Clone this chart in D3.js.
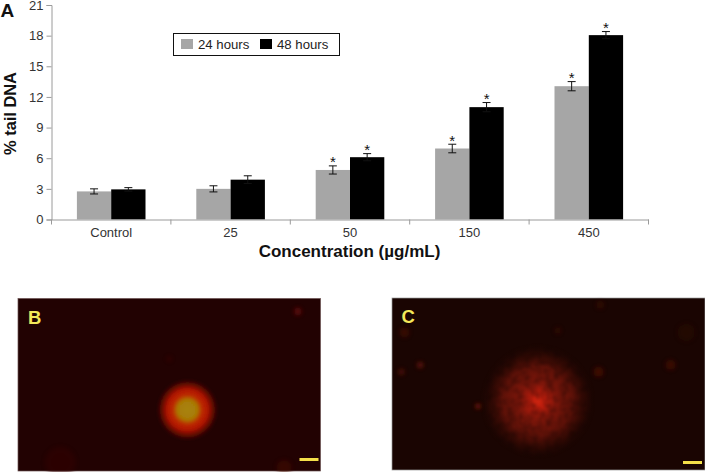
<!DOCTYPE html>
<html>
<head>
<meta charset="utf-8">
<script src="https://cdn.jsdelivr.net/npm/d3@7"></script>
<style>
  html, body { margin: 0; padding: 0; background: #fff; }
  text { font-family: "Liberation Sans", Arial, sans-serif; }
</style>
</head>
<body>
<script>
var categories = ["Control", "25", "50", "150", "450"];
var seriesNames = ["24 hours", "48 hours"];
var values24 = [2.75, 3.0, 4.85, 6.95, 13.05];
var values48 = [2.95, 3.9, 6.1, 11.0, 18.05];
var errors24 = [0.25, 0.3, 0.4, 0.42, 0.45];
var errors48 = [0.17, 0.38, 0.35, 0.45, 0.35];
var stars24 = [false, false, true, true, true];
var stars48 = [false, false, true, true, true];
var yTicks = [0, 3, 6, 9, 12, 15, 18, 21];

// micrograph contents, in panel fractions: [x, y, radius, colour, opacity]
var specksB = [[0.925, 0.075, 0.012, "#6a0810", 0.8], [0.5, 0.35, 0.008, "#4a0805", 0.5],
  [0.88, 0.98, 0.025, "#4a0803", 0.5], [0.14, 0.95, 0.05, "#360500", 0.5]];
var specksC = [[0.09, 0.39, 0.01, "#7a1a10", 0.7], [0.03, 0.43, 0.01, "#6a1408", 0.6],
  [0.04, 0.2, 0.016, "#4a0f06", 0.6], [0.89, 0.39, 0.016, "#4a0f06", 0.7],
  [0.66, 0.43, 0.016, "#4a0f06", 0.8], [0.275, 0.63, 0.008, "#8a1c10", 0.9],
  [0.53, 0.19, 0.01, "#3c0c05", 0.6], [0.665, 0.04, 0.012, "#3c0c05", 0.6],
  [0.94, 0.2, 0.028, "#2c0a04", 0.5]];

var svg = d3.select("body").append("svg")
  .attr("width", 705)
  .attr("height", 472)
  .style("display", "block");

var x = d3.scaleBand().domain(categories).range([51.5, 648.5]);
var y = d3.scaleLinear().domain([0, 21]).range([219.5, 5]);
var barW = 34.3;
var axisColor = "#9a9a9a";

var yAxis = d3.axisLeft(y).tickValues(yTicks).tickSize(5).tickPadding(3);
var gy = svg.append("g").attr("transform", "translate(51.5,0)").call(yAxis);
gy.select(".domain").attr("stroke", axisColor);
gy.selectAll("line").attr("stroke", axisColor);
gy.selectAll("text").style("font-size", "13px").attr("fill", "#333");

function drawSeries(vals, errs, stars, color, offset) {
  var g = svg.append("g");
  categories.forEach(function(c, i) {
    var cx = x(c) + x.bandwidth() / 2 + offset * barW;
    g.append("rect")
      .attr("x", cx - barW / 2)
      .attr("y", y(vals[i]))
      .attr("width", barW)
      .attr("height", y(0) - y(vals[i]))
      .attr("fill", color);
    [[cx, cx, vals[i] - errs[i], vals[i] + errs[i]],
     [cx - 4, cx + 4, vals[i] + errs[i], vals[i] + errs[i]],
     [cx - 4, cx + 4, vals[i] - errs[i], vals[i] - errs[i]]].forEach(function(s) {
      g.append("line")
        .attr("x1", s[0]).attr("x2", s[1])
        .attr("y1", y(s[2])).attr("y2", y(s[3]))
        .attr("stroke", "#111")
        .attr("stroke-width", 1);
    });
    if (stars[i]) {
      g.append("text")
        .attr("x", cx)
        .attr("y", y(vals[i] + errs[i]) + 1.5)
        .attr("text-anchor", "middle")
        .style("font-size", "15px")
        .attr("fill", "#111")
        .text("*");
    }
  });
}
drawSeries(values24, errors24, stars24, "#a6a6a6", -0.5);
drawSeries(values48, errors48, stars48, "#000", 0.5);

var xAxis = d3.axisBottom(x).tickSize(0).tickPadding(7);
var gx = svg.append("g").attr("transform", "translate(0,219.5)").call(xAxis);
gx.select(".domain").attr("stroke", axisColor);
gx.selectAll("text").style("font-size", "13px").attr("fill", "#333").attr("dy", "0.8em");
// separators between the groups
gx.selectAll(".sep").data(categories.concat(["end"])).enter().append("line")
  .attr("x1", function(d) { return d === "end" ? x.range()[1] : x(d); })
  .attr("x2", function(d) { return d === "end" ? x.range()[1] : x(d); })
  .attr("y1", 0).attr("y2", 5)
  .attr("stroke", axisColor);

svg.append("text")
  .attr("transform", "translate(15.5,113.5) rotate(-90)")
  .attr("text-anchor", "middle")
  .style("font-size", "16.4px").style("font-weight", "bold")
  .attr("fill", "#111")
  .text("% tail DNA");
svg.append("text")
  .attr("x", 349.5).attr("y", 256.5)
  .attr("text-anchor", "middle")
  .style("font-size", "17px").style("font-weight", "bold")
  .attr("fill", "#111")
  .text("Concentration (µg/mL)");
svg.append("text")
  .attr("x", 0.5).attr("y", 17)
  .style("font-size", "19px").style("font-weight", "bold")
  .attr("fill", "#111")
  .text("A");

// legend
svg.append("rect")
  .attr("x", 173.5).attr("y", 33.5).attr("width", 166).attr("height", 22)
  .attr("fill", "#fff").attr("stroke", "#111").attr("stroke-width", 1);
[["#a6a6a6", 181, 198], ["#000", 260, 277]].forEach(function(l, i) {
  svg.append("rect")
    .attr("x", l[1]).attr("y", 39).attr("width", 12).attr("height", 10)
    .attr("fill", l[0]);
  svg.append("text")
    .attr("x", l[2]).attr("y", 48.5)
    .style("font-size", "13.2px").attr("fill", "#222")
    .text(seriesNames[i]);
});

// micrograph panels
var defs = svg.append("defs");
function radial(id, stops) {
  var g = defs.append("radialGradient").attr("id", id);
  stops.forEach(function(s) {
    g.append("stop").attr("offset", s[0]).attr("stop-color", s[1]).attr("stop-opacity", s[2]);
  });
}
radial("cometB", [[0, "#a88408", 1], [0.32, "#a87a06", 1], [0.46, "#bc2c06", 1],
  [0.66, "#b01406", 1], [0.86, "#600b04", 0.8], [1, "#2a0300", 0]]);
radial("cometC", [[0, "#d0240f", 1], [0.13, "#b81c0c", 1], [0.3, "#80160a", 1],
  [0.6, "#621208", 0.95], [0.82, "#360a04", 0.65], [1, "#1c0502", 0]]);

var blur = defs.append("filter").attr("id", "soft")
  .attr("x", "-100%").attr("y", "-100%").attr("width", "300%").attr("height", "300%");
blur.append("feGaussianBlur").attr("stdDeviation", 2);

var blurB = defs.append("filter").attr("id", "softB");
blurB.append("feGaussianBlur").attr("stdDeviation", 1.6);

// mottled look of the diffuse comet: multiply it by a soft noise
var mottle = defs.append("filter").attr("id", "mottle")
  .attr("color-interpolation-filters", "sRGB");
mottle.append("feTurbulence").attr("type", "fractalNoise").attr("baseFrequency", 0.13)
  .attr("numOctaves", 2).attr("seed", 4).attr("result", "n");
mottle.append("feColorMatrix").attr("in", "n").attr("type", "matrix")
  .attr("values", "0.7 0 0 0 0.55  0.7 0 0 0 0.55  0.7 0 0 0 0.55  0 0 0 0 1").attr("result", "grain");
mottle.append("feGaussianBlur").attr("in", "grain").attr("stdDeviation", 1).attr("result", "grainSoft");
mottle.append("feComposite").attr("in", "SourceGraphic").attr("in2", "grainSoft")
  .attr("operator", "arithmetic").attr("k1", 1).attr("k2", 0).attr("k3", 0).attr("k4", 0);

function panel(px, py, pw, ph, bg, border, label, labelX, comet, cr, specks, barX, barY) {
  var pxScale = d3.scaleLinear().domain([0, 1]).range([px, px + pw]);
  var pyScale = d3.scaleLinear().domain([0, 1]).range([py, py + ph]);
  svg.append("rect")
    .attr("x", px).attr("y", py).attr("width", pw).attr("height", ph)
    .attr("fill", bg).attr("stroke", border).attr("stroke-width", 0.7);
  svg.selectAll(null).data(specks).enter().append("circle")
    .attr("cx", function(d) { return pxScale(d[0]); })
    .attr("cy", function(d) { return pyScale(d[1]); })
    .attr("r", function(d) { return d[2] * pw; })
    .attr("fill", function(d) { return d[3]; })
    .attr("opacity", function(d) { return d[4]; })
    .attr("filter", "url(#soft)");
  svg.append("circle")
    .attr("cx", pxScale(comet[0])).attr("cy", pyScale(comet[1]))
    .attr("r", cr)
    .attr("fill", "url(#" + comet[2] + ")")
    .attr("filter", comet[3]);
  svg.append("rect")
    .attr("x", barX).attr("y", barY).attr("width", 19).attr("height", 3)
    .attr("fill", "#f4e04a");
  svg.append("text")
    .attr("x", labelX).attr("y", py + 25)
    .style("font-size", "18.5px").style("font-weight", "bold")
    .attr("fill", "#f4e85a")
    .text(label);
}
panel(18, 298.5, 302.5, 172.5, "#220202", "#6a5050", "B", 28,
  [0.56, 0.645, "cometB", "url(#softB)"], 31, specksB, 299.5, 458);
panel(392, 298, 313, 172, "#1a0502", "#999", "C", 401.5,
  [0.465, 0.6, "cometC", "url(#mottle)"], 58, specksC, 683, 461);
</script>
</body>
</html>
